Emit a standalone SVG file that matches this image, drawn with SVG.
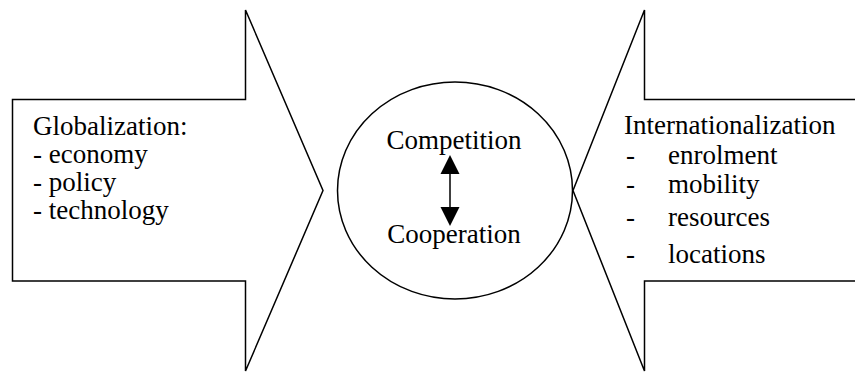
<svg xmlns="http://www.w3.org/2000/svg" width="855" height="373" viewBox="0 0 855 373">
<style>
.shape{fill:#fff;stroke:#000;stroke-width:1.5;stroke-linejoin:miter}
text{font-family:"Liberation Serif","Times New Roman",serif;font-size:27px;fill:#000}
</style>
<rect width="855" height="373" fill="#fff"/>
<g id="globalization">
<path class="shape" d="M12.5,99.5 H245.5 V10 L323,190.5 L245.5,371 V281 H12.5 Z"/>
<text x="33" y="135">Globalization:</text>
<text x="33" y="163">- economy</text>
<text x="33" y="191">- policy</text>
<text x="33" y="219">- technology</text>
</g>
<g id="internationalization">
<path class="shape" d="M860,99.5 H644.5 V10 L573,190.5 L644.5,371 V281 H860"/>
<text x="624" y="134">Internationalization</text>
<text x="626" y="164">-</text><text x="668" y="164">enrolment</text>
<text x="626" y="193">-</text><text x="668" y="193">mobility</text>
<text x="626" y="226">-</text><text x="668" y="226">resources</text>
<text x="626" y="263">-</text><text x="668" y="263">locations</text>
</g>
<g id="center">
<ellipse class="shape" cx="455" cy="190.5" rx="117.5" ry="108.5"/>
<text x="454" y="149" text-anchor="middle">Competition</text>
<text x="454" y="243" text-anchor="middle">Cooperation</text>
</g>
<g id="connectors">
<line x1="450" y1="170" x2="450" y2="210" stroke="#000" stroke-width="1.5"/>
<polygon points="450,155 459.5,174 440.5,174" fill="#000"/>
<polygon points="450,226 459.5,207 440.5,207" fill="#000"/>
</g>
</svg>
